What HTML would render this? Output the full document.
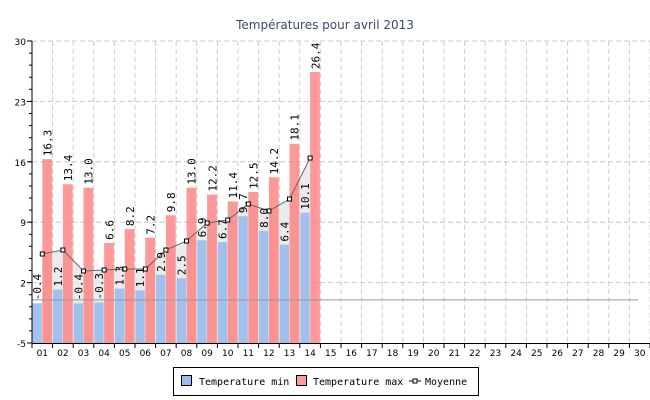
<!DOCTYPE html>
<html><head><meta charset="utf-8"><style>
html,body{margin:0;padding:0;background:#fff;}
svg{display:block;font-family:"DejaVu Sans Mono","Liberation Mono",monospace;}
</style></head><body>
<svg id="c" width="650" height="400" xmlns="http://www.w3.org/2000/svg">
<rect width="650" height="400" fill="#fff"/>
<text x="325" y="29" text-anchor="middle" font-family="DejaVu Sans, Liberation Sans, sans-serif" font-size="12" fill="#3a4a6a">Températures pour avril 2013</text>
<g id="g"></g>
<rect x="173.5" y="367.5" width="305" height="28" fill="#fff" stroke="#000"/>
<rect x="181.5" y="375.5" width="10" height="10" fill="#99bbee" stroke="#000"/>
<text x="199" y="385" font-size="10" fill="#000">Temperature min</text>
<rect x="296.5" y="375.5" width="10" height="10" fill="#f99" stroke="#000"/>
<text x="313" y="385" font-size="10" fill="#000">Temperature max</text>
<line x1="409" y1="381" x2="421" y2="381" stroke="#000"/>
<rect x="413" y="379" width="4" height="4" fill="#fff" stroke="#000"/>
<text x="425" y="385" font-size="10" fill="#000">Moyenne</text>
</svg>
<script>
var L=32,R=650,T=41,B=343,cw=(R-L)/30,k=(B-T)/35;
function Y(v){return B-(v+5)*k;}
var mn=[-0.4,1.2,-0.4,-0.3,1.3,1.1,2.9,2.5,6.9,6.7,9.7,8.0,6.4,10.1];
var mx=[16.3,13.4,13.0,6.6,8.2,7.2,9.8,13.0,12.2,11.4,12.5,14.2,18.1,26.4];
var my=[254,250,271,270,269,269,250,241,223,220,204,211,199,158];
var s='';
for(var i=0;i<=30;i++){var x=L+i*cw;s+='<line x1="'+x+'" y1="'+T+'" x2="'+x+'" y2="'+B+'" stroke="#ccc" stroke-dasharray="5,3"/>';}
for(var v=-5;v<=30;v+=7){var y=Y(v);if(v>-5)s+='<line x1="'+L+'" y1="'+y+'" x2="'+R+'" y2="'+y+'" stroke="#ccc" stroke-dasharray="5,3"/>';
s+='<text x="26" y="'+(y+4)+'" text-anchor="end" font-family="DejaVu Sans, sans-serif" font-size="9" fill="#000">'+v+'</text>';
s+='<line x1="'+(L-5)+'" y1="'+y+'" x2="'+L+'" y2="'+y+'" stroke="#000"/>';}
for(var v=-5;v<30;v+=1.4){var y=Y(v);s+='<line x1="'+(L-3)+'" y1="'+y+'" x2="'+L+'" y2="'+y+'" stroke="#000"/>';}
var p='M'+(L+cw/2)+','+B;for(var i=0;i<14;i++)p+=' L'+(L+cw*i+cw/2)+','+my[i];p+=' L'+(L+cw*13.5)+','+B+'Z';
s+='<path d="'+p+'" fill="#e6e6e6" fill-opacity="0.8"/>';
for(var i=0;i<14;i++){var x=L+i*cw;
var yb=Y(mn[i]);s+='<rect x="'+(x+0.5)+'" y="'+yb+'" width="'+(cw/2-1)+'" height="'+(B-yb)+'" fill="#99bbee" fill-opacity="0.9"/>';
var yr=Y(mx[i]);s+='<rect x="'+(x+cw/2)+'" y="'+yr+'" width="'+(cw/2-0.5)+'" height="'+(B-yr)+'" fill="#f77" fill-opacity="0.75"/>';}
s+='<line x1="'+L+'" y1="'+Y(0)+'" x2="638" y2="'+Y(0)+'" stroke="#999"/>';
var q='';for(var i=0;i<14;i++)q+=(i?' L':'M')+(L+cw*i+cw/2)+','+my[i];
s+='<path d="'+q+'" fill="none" stroke="#666" stroke-width="1"/>';
for(var i=0;i<14;i++)s+='<rect x="'+(L+cw*i+cw/2-2)+'" y="'+(my[i]-2)+'" width="4" height="4" fill="#fff" stroke="#000"/>';
function lab(x,y,t){s+='<text transform="translate('+(x+4)+','+(y-3)+') rotate(-90)" font-size="11" fill="#000">'+t+'</text>';}
for(var i=0;i<14;i++){var x=L+i*cw;lab(x+cw/4,Y(mn[i]),mn[i].toFixed(1));lab(x+3*cw/4,Y(mx[i]),mx[i].toFixed(1));}
s+='<line x1="'+L+'" y1="'+T+'" x2="'+L+'" y2="'+B+'" stroke="#000"/>';
s+='<line x1="'+L+'" y1="'+(B+0.5)+'" x2="'+R+'" y2="'+(B+0.5)+'" stroke="#000"/>';
for(var i=0;i<=30;i++){var x=L+i*cw;s+='<line x1="'+x+'" y1="'+B+'" x2="'+x+'" y2="'+(B+5)+'" stroke="#000"/>';
if(i<30)s+='<text x="'+(x+cw/2)+'" y="'+(B+13)+'" text-anchor="middle" font-family="DejaVu Sans, sans-serif" font-size="9" fill="#000">'+(i<9?'0':'')+(i+1)+'</text>';}
document.getElementById('g').innerHTML=s;
</script>
</body></html>
